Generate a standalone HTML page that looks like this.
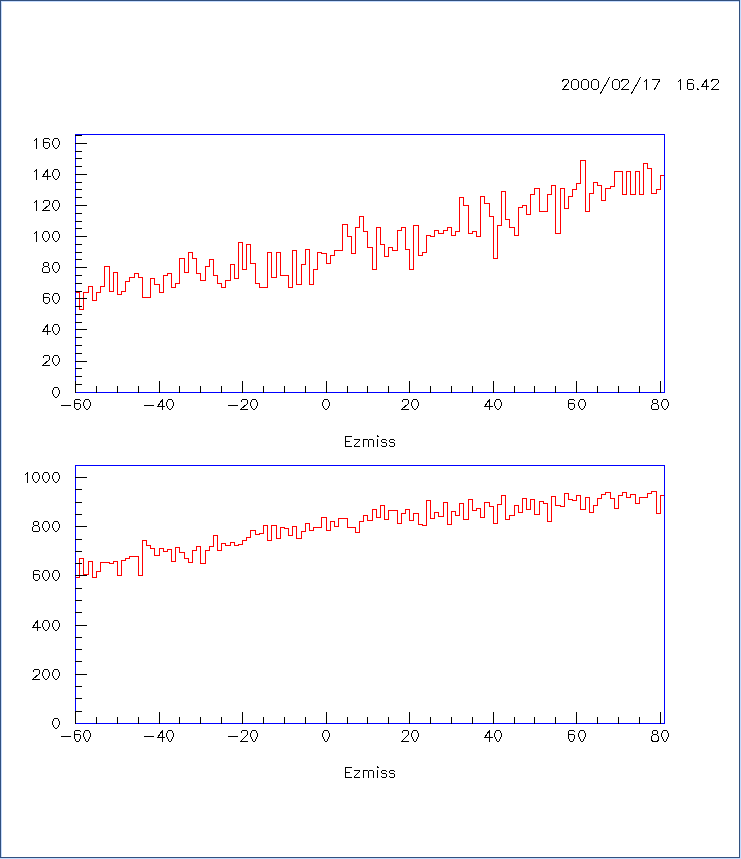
<!DOCTYPE html>
<html><head><meta charset="utf-8"><title>PAW histogram</title>
<style>html,body{margin:0;padding:0;background:#fff;width:741px;height:859px;overflow:hidden}svg{display:block}</style>
</head><body>
<svg width="741" height="859" viewBox="0 0 741 859" shape-rendering="crispEdges">
<rect x="0" y="0" width="741" height="859" fill="#ffffff"/>
<rect x="0" y="0" width="740" height="1" fill="#32507e"/>
<rect x="0" y="0" width="1" height="858" fill="#32507e"/>
<rect x="1" y="1" width="738" height="1" fill="#c5dcff"/>
<rect x="1" y="1" width="1" height="856" fill="#c5dcff"/>
<rect x="739" y="0" width="1" height="858" fill="#32507e"/>
<rect x="0" y="857" width="740" height="1" fill="#32507e"/>
<rect x="740" y="0" width="1" height="859" fill="#c5dcff"/>
<rect x="0" y="858" width="741" height="1" fill="#c5dcff"/>
<rect x="75" y="292" width="5" height="1" fill="#ff0000"/>
<rect x="79" y="292" width="1" height="18" fill="#ff0000"/>
<rect x="79" y="309" width="5" height="1" fill="#ff0000"/>
<rect x="83" y="292" width="1" height="18" fill="#ff0000"/>
<rect x="83" y="292" width="6" height="1" fill="#ff0000"/>
<rect x="88" y="286" width="1" height="7" fill="#ff0000"/>
<rect x="88" y="286" width="5" height="1" fill="#ff0000"/>
<rect x="92" y="286" width="1" height="15" fill="#ff0000"/>
<rect x="92" y="300" width="5" height="1" fill="#ff0000"/>
<rect x="96" y="292" width="1" height="9" fill="#ff0000"/>
<rect x="96" y="292" width="5" height="1" fill="#ff0000"/>
<rect x="100" y="286" width="1" height="7" fill="#ff0000"/>
<rect x="100" y="286" width="5" height="1" fill="#ff0000"/>
<rect x="104" y="266" width="1" height="21" fill="#ff0000"/>
<rect x="104" y="266" width="6" height="1" fill="#ff0000"/>
<rect x="109" y="266" width="1" height="26" fill="#ff0000"/>
<rect x="109" y="291" width="5" height="1" fill="#ff0000"/>
<rect x="113" y="272" width="1" height="20" fill="#ff0000"/>
<rect x="113" y="272" width="5" height="1" fill="#ff0000"/>
<rect x="117" y="272" width="1" height="23" fill="#ff0000"/>
<rect x="117" y="294" width="5" height="1" fill="#ff0000"/>
<rect x="121" y="291" width="1" height="4" fill="#ff0000"/>
<rect x="121" y="291" width="5" height="1" fill="#ff0000"/>
<rect x="125" y="281" width="1" height="11" fill="#ff0000"/>
<rect x="125" y="281" width="5" height="1" fill="#ff0000"/>
<rect x="129" y="277" width="1" height="5" fill="#ff0000"/>
<rect x="129" y="277" width="6" height="1" fill="#ff0000"/>
<rect x="134" y="273" width="1" height="5" fill="#ff0000"/>
<rect x="134" y="273" width="5" height="1" fill="#ff0000"/>
<rect x="138" y="273" width="1" height="5" fill="#ff0000"/>
<rect x="138" y="277" width="5" height="1" fill="#ff0000"/>
<rect x="142" y="277" width="1" height="21" fill="#ff0000"/>
<rect x="142" y="297" width="5" height="1" fill="#ff0000"/>
<rect x="146" y="297" width="1" height="1" fill="#ff0000"/>
<rect x="146" y="297" width="5" height="1" fill="#ff0000"/>
<rect x="150" y="278" width="1" height="20" fill="#ff0000"/>
<rect x="150" y="278" width="5" height="1" fill="#ff0000"/>
<rect x="154" y="278" width="1" height="7" fill="#ff0000"/>
<rect x="154" y="284" width="6" height="1" fill="#ff0000"/>
<rect x="159" y="284" width="1" height="9" fill="#ff0000"/>
<rect x="159" y="292" width="5" height="1" fill="#ff0000"/>
<rect x="163" y="275" width="1" height="18" fill="#ff0000"/>
<rect x="163" y="275" width="5" height="1" fill="#ff0000"/>
<rect x="167" y="273" width="1" height="3" fill="#ff0000"/>
<rect x="167" y="273" width="5" height="1" fill="#ff0000"/>
<rect x="171" y="273" width="1" height="15" fill="#ff0000"/>
<rect x="171" y="287" width="5" height="1" fill="#ff0000"/>
<rect x="175" y="283" width="1" height="5" fill="#ff0000"/>
<rect x="175" y="283" width="5" height="1" fill="#ff0000"/>
<rect x="179" y="258" width="1" height="26" fill="#ff0000"/>
<rect x="179" y="258" width="6" height="1" fill="#ff0000"/>
<rect x="184" y="258" width="1" height="15" fill="#ff0000"/>
<rect x="184" y="272" width="5" height="1" fill="#ff0000"/>
<rect x="188" y="252" width="1" height="21" fill="#ff0000"/>
<rect x="188" y="252" width="5" height="1" fill="#ff0000"/>
<rect x="192" y="252" width="1" height="7" fill="#ff0000"/>
<rect x="192" y="258" width="5" height="1" fill="#ff0000"/>
<rect x="196" y="258" width="1" height="16" fill="#ff0000"/>
<rect x="196" y="273" width="5" height="1" fill="#ff0000"/>
<rect x="200" y="273" width="1" height="8" fill="#ff0000"/>
<rect x="200" y="280" width="6" height="1" fill="#ff0000"/>
<rect x="205" y="266" width="1" height="15" fill="#ff0000"/>
<rect x="205" y="266" width="5" height="1" fill="#ff0000"/>
<rect x="209" y="259" width="1" height="8" fill="#ff0000"/>
<rect x="209" y="259" width="5" height="1" fill="#ff0000"/>
<rect x="213" y="259" width="1" height="17" fill="#ff0000"/>
<rect x="213" y="275" width="5" height="1" fill="#ff0000"/>
<rect x="217" y="275" width="1" height="9" fill="#ff0000"/>
<rect x="217" y="283" width="5" height="1" fill="#ff0000"/>
<rect x="221" y="283" width="1" height="5" fill="#ff0000"/>
<rect x="221" y="287" width="5" height="1" fill="#ff0000"/>
<rect x="225" y="280" width="1" height="8" fill="#ff0000"/>
<rect x="225" y="280" width="6" height="1" fill="#ff0000"/>
<rect x="230" y="264" width="1" height="17" fill="#ff0000"/>
<rect x="230" y="264" width="5" height="1" fill="#ff0000"/>
<rect x="234" y="264" width="1" height="15" fill="#ff0000"/>
<rect x="234" y="278" width="5" height="1" fill="#ff0000"/>
<rect x="238" y="242" width="1" height="37" fill="#ff0000"/>
<rect x="238" y="242" width="5" height="1" fill="#ff0000"/>
<rect x="242" y="242" width="1" height="28" fill="#ff0000"/>
<rect x="242" y="269" width="5" height="1" fill="#ff0000"/>
<rect x="246" y="244" width="1" height="26" fill="#ff0000"/>
<rect x="246" y="244" width="5" height="1" fill="#ff0000"/>
<rect x="250" y="244" width="1" height="20" fill="#ff0000"/>
<rect x="250" y="263" width="6" height="1" fill="#ff0000"/>
<rect x="255" y="263" width="1" height="21" fill="#ff0000"/>
<rect x="255" y="283" width="5" height="1" fill="#ff0000"/>
<rect x="259" y="283" width="1" height="5" fill="#ff0000"/>
<rect x="259" y="287" width="5" height="1" fill="#ff0000"/>
<rect x="263" y="287" width="1" height="1" fill="#ff0000"/>
<rect x="263" y="287" width="5" height="1" fill="#ff0000"/>
<rect x="267" y="252" width="1" height="36" fill="#ff0000"/>
<rect x="267" y="252" width="5" height="1" fill="#ff0000"/>
<rect x="271" y="252" width="1" height="26" fill="#ff0000"/>
<rect x="271" y="277" width="6" height="1" fill="#ff0000"/>
<rect x="276" y="252" width="1" height="26" fill="#ff0000"/>
<rect x="276" y="252" width="5" height="1" fill="#ff0000"/>
<rect x="280" y="252" width="1" height="24" fill="#ff0000"/>
<rect x="280" y="275" width="5" height="1" fill="#ff0000"/>
<rect x="284" y="275" width="1" height="1" fill="#ff0000"/>
<rect x="284" y="275" width="5" height="1" fill="#ff0000"/>
<rect x="288" y="275" width="1" height="13" fill="#ff0000"/>
<rect x="288" y="287" width="5" height="1" fill="#ff0000"/>
<rect x="292" y="250" width="1" height="38" fill="#ff0000"/>
<rect x="292" y="250" width="5" height="1" fill="#ff0000"/>
<rect x="296" y="250" width="1" height="35" fill="#ff0000"/>
<rect x="296" y="284" width="6" height="1" fill="#ff0000"/>
<rect x="301" y="264" width="1" height="21" fill="#ff0000"/>
<rect x="301" y="264" width="5" height="1" fill="#ff0000"/>
<rect x="305" y="249" width="1" height="16" fill="#ff0000"/>
<rect x="305" y="249" width="5" height="1" fill="#ff0000"/>
<rect x="309" y="249" width="1" height="36" fill="#ff0000"/>
<rect x="309" y="284" width="5" height="1" fill="#ff0000"/>
<rect x="313" y="269" width="1" height="16" fill="#ff0000"/>
<rect x="313" y="269" width="5" height="1" fill="#ff0000"/>
<rect x="317" y="252" width="1" height="18" fill="#ff0000"/>
<rect x="317" y="252" width="5" height="1" fill="#ff0000"/>
<rect x="321" y="252" width="1" height="2" fill="#ff0000"/>
<rect x="321" y="253" width="6" height="1" fill="#ff0000"/>
<rect x="326" y="253" width="1" height="11" fill="#ff0000"/>
<rect x="326" y="263" width="5" height="1" fill="#ff0000"/>
<rect x="330" y="255" width="1" height="9" fill="#ff0000"/>
<rect x="330" y="255" width="5" height="1" fill="#ff0000"/>
<rect x="334" y="250" width="1" height="6" fill="#ff0000"/>
<rect x="334" y="250" width="5" height="1" fill="#ff0000"/>
<rect x="338" y="250" width="1" height="1" fill="#ff0000"/>
<rect x="338" y="250" width="5" height="1" fill="#ff0000"/>
<rect x="342" y="224" width="1" height="27" fill="#ff0000"/>
<rect x="342" y="224" width="6" height="1" fill="#ff0000"/>
<rect x="347" y="224" width="1" height="13" fill="#ff0000"/>
<rect x="347" y="236" width="5" height="1" fill="#ff0000"/>
<rect x="351" y="236" width="1" height="18" fill="#ff0000"/>
<rect x="351" y="253" width="5" height="1" fill="#ff0000"/>
<rect x="355" y="227" width="1" height="27" fill="#ff0000"/>
<rect x="355" y="227" width="5" height="1" fill="#ff0000"/>
<rect x="359" y="216" width="1" height="12" fill="#ff0000"/>
<rect x="359" y="216" width="5" height="1" fill="#ff0000"/>
<rect x="363" y="216" width="1" height="16" fill="#ff0000"/>
<rect x="363" y="231" width="5" height="1" fill="#ff0000"/>
<rect x="367" y="231" width="1" height="17" fill="#ff0000"/>
<rect x="367" y="247" width="6" height="1" fill="#ff0000"/>
<rect x="372" y="247" width="1" height="23" fill="#ff0000"/>
<rect x="372" y="269" width="5" height="1" fill="#ff0000"/>
<rect x="376" y="227" width="1" height="43" fill="#ff0000"/>
<rect x="376" y="227" width="5" height="1" fill="#ff0000"/>
<rect x="380" y="227" width="1" height="18" fill="#ff0000"/>
<rect x="380" y="244" width="5" height="1" fill="#ff0000"/>
<rect x="384" y="244" width="1" height="13" fill="#ff0000"/>
<rect x="384" y="256" width="5" height="1" fill="#ff0000"/>
<rect x="388" y="247" width="1" height="10" fill="#ff0000"/>
<rect x="388" y="247" width="5" height="1" fill="#ff0000"/>
<rect x="392" y="247" width="1" height="4" fill="#ff0000"/>
<rect x="392" y="250" width="6" height="1" fill="#ff0000"/>
<rect x="397" y="230" width="1" height="21" fill="#ff0000"/>
<rect x="397" y="230" width="5" height="1" fill="#ff0000"/>
<rect x="401" y="227" width="1" height="4" fill="#ff0000"/>
<rect x="401" y="227" width="5" height="1" fill="#ff0000"/>
<rect x="405" y="227" width="1" height="23" fill="#ff0000"/>
<rect x="405" y="249" width="5" height="1" fill="#ff0000"/>
<rect x="409" y="249" width="1" height="21" fill="#ff0000"/>
<rect x="409" y="269" width="5" height="1" fill="#ff0000"/>
<rect x="413" y="225" width="1" height="45" fill="#ff0000"/>
<rect x="413" y="225" width="6" height="1" fill="#ff0000"/>
<rect x="418" y="225" width="1" height="31" fill="#ff0000"/>
<rect x="418" y="255" width="5" height="1" fill="#ff0000"/>
<rect x="422" y="252" width="1" height="4" fill="#ff0000"/>
<rect x="422" y="252" width="5" height="1" fill="#ff0000"/>
<rect x="426" y="235" width="1" height="18" fill="#ff0000"/>
<rect x="426" y="235" width="5" height="1" fill="#ff0000"/>
<rect x="430" y="235" width="1" height="2" fill="#ff0000"/>
<rect x="430" y="236" width="5" height="1" fill="#ff0000"/>
<rect x="434" y="230" width="1" height="7" fill="#ff0000"/>
<rect x="434" y="230" width="5" height="1" fill="#ff0000"/>
<rect x="438" y="230" width="1" height="4" fill="#ff0000"/>
<rect x="438" y="233" width="6" height="1" fill="#ff0000"/>
<rect x="443" y="230" width="1" height="4" fill="#ff0000"/>
<rect x="443" y="230" width="5" height="1" fill="#ff0000"/>
<rect x="447" y="227" width="1" height="4" fill="#ff0000"/>
<rect x="447" y="227" width="5" height="1" fill="#ff0000"/>
<rect x="451" y="227" width="1" height="9" fill="#ff0000"/>
<rect x="451" y="235" width="5" height="1" fill="#ff0000"/>
<rect x="455" y="231" width="1" height="5" fill="#ff0000"/>
<rect x="455" y="231" width="5" height="1" fill="#ff0000"/>
<rect x="459" y="197" width="1" height="35" fill="#ff0000"/>
<rect x="459" y="197" width="5" height="1" fill="#ff0000"/>
<rect x="463" y="197" width="1" height="9" fill="#ff0000"/>
<rect x="463" y="205" width="6" height="1" fill="#ff0000"/>
<rect x="468" y="205" width="1" height="29" fill="#ff0000"/>
<rect x="468" y="233" width="5" height="1" fill="#ff0000"/>
<rect x="472" y="231" width="1" height="3" fill="#ff0000"/>
<rect x="472" y="231" width="5" height="1" fill="#ff0000"/>
<rect x="476" y="231" width="1" height="6" fill="#ff0000"/>
<rect x="476" y="236" width="5" height="1" fill="#ff0000"/>
<rect x="480" y="196" width="1" height="41" fill="#ff0000"/>
<rect x="480" y="196" width="5" height="1" fill="#ff0000"/>
<rect x="484" y="196" width="1" height="8" fill="#ff0000"/>
<rect x="484" y="203" width="6" height="1" fill="#ff0000"/>
<rect x="489" y="203" width="1" height="14" fill="#ff0000"/>
<rect x="489" y="216" width="5" height="1" fill="#ff0000"/>
<rect x="493" y="216" width="1" height="43" fill="#ff0000"/>
<rect x="493" y="258" width="5" height="1" fill="#ff0000"/>
<rect x="497" y="225" width="1" height="34" fill="#ff0000"/>
<rect x="497" y="225" width="5" height="1" fill="#ff0000"/>
<rect x="501" y="191" width="1" height="35" fill="#ff0000"/>
<rect x="501" y="191" width="5" height="1" fill="#ff0000"/>
<rect x="505" y="191" width="1" height="29" fill="#ff0000"/>
<rect x="505" y="219" width="5" height="1" fill="#ff0000"/>
<rect x="509" y="219" width="1" height="9" fill="#ff0000"/>
<rect x="509" y="227" width="6" height="1" fill="#ff0000"/>
<rect x="514" y="227" width="1" height="9" fill="#ff0000"/>
<rect x="514" y="235" width="5" height="1" fill="#ff0000"/>
<rect x="518" y="207" width="1" height="29" fill="#ff0000"/>
<rect x="518" y="207" width="5" height="1" fill="#ff0000"/>
<rect x="522" y="205" width="1" height="3" fill="#ff0000"/>
<rect x="522" y="205" width="5" height="1" fill="#ff0000"/>
<rect x="526" y="205" width="1" height="10" fill="#ff0000"/>
<rect x="526" y="214" width="5" height="1" fill="#ff0000"/>
<rect x="530" y="194" width="1" height="21" fill="#ff0000"/>
<rect x="530" y="194" width="5" height="1" fill="#ff0000"/>
<rect x="534" y="188" width="1" height="7" fill="#ff0000"/>
<rect x="534" y="188" width="6" height="1" fill="#ff0000"/>
<rect x="539" y="188" width="1" height="24" fill="#ff0000"/>
<rect x="539" y="211" width="5" height="1" fill="#ff0000"/>
<rect x="543" y="211" width="1" height="1" fill="#ff0000"/>
<rect x="543" y="211" width="5" height="1" fill="#ff0000"/>
<rect x="547" y="194" width="1" height="18" fill="#ff0000"/>
<rect x="547" y="194" width="5" height="1" fill="#ff0000"/>
<rect x="551" y="185" width="1" height="10" fill="#ff0000"/>
<rect x="551" y="185" width="5" height="1" fill="#ff0000"/>
<rect x="555" y="185" width="1" height="49" fill="#ff0000"/>
<rect x="555" y="233" width="6" height="1" fill="#ff0000"/>
<rect x="560" y="188" width="1" height="46" fill="#ff0000"/>
<rect x="560" y="188" width="5" height="1" fill="#ff0000"/>
<rect x="564" y="188" width="1" height="21" fill="#ff0000"/>
<rect x="564" y="208" width="5" height="1" fill="#ff0000"/>
<rect x="568" y="196" width="1" height="13" fill="#ff0000"/>
<rect x="568" y="196" width="5" height="1" fill="#ff0000"/>
<rect x="572" y="189" width="1" height="8" fill="#ff0000"/>
<rect x="572" y="189" width="5" height="1" fill="#ff0000"/>
<rect x="576" y="183" width="1" height="7" fill="#ff0000"/>
<rect x="576" y="183" width="5" height="1" fill="#ff0000"/>
<rect x="580" y="160" width="1" height="24" fill="#ff0000"/>
<rect x="580" y="160" width="6" height="1" fill="#ff0000"/>
<rect x="585" y="160" width="1" height="52" fill="#ff0000"/>
<rect x="585" y="211" width="5" height="1" fill="#ff0000"/>
<rect x="589" y="193" width="1" height="19" fill="#ff0000"/>
<rect x="589" y="193" width="5" height="1" fill="#ff0000"/>
<rect x="593" y="182" width="1" height="12" fill="#ff0000"/>
<rect x="593" y="182" width="5" height="1" fill="#ff0000"/>
<rect x="597" y="182" width="1" height="4" fill="#ff0000"/>
<rect x="597" y="185" width="5" height="1" fill="#ff0000"/>
<rect x="601" y="185" width="1" height="16" fill="#ff0000"/>
<rect x="601" y="200" width="5" height="1" fill="#ff0000"/>
<rect x="605" y="188" width="1" height="13" fill="#ff0000"/>
<rect x="605" y="188" width="6" height="1" fill="#ff0000"/>
<rect x="610" y="186" width="1" height="3" fill="#ff0000"/>
<rect x="610" y="186" width="5" height="1" fill="#ff0000"/>
<rect x="614" y="171" width="1" height="16" fill="#ff0000"/>
<rect x="614" y="171" width="5" height="1" fill="#ff0000"/>
<rect x="618" y="171" width="1" height="1" fill="#ff0000"/>
<rect x="618" y="171" width="5" height="1" fill="#ff0000"/>
<rect x="622" y="171" width="1" height="24" fill="#ff0000"/>
<rect x="622" y="194" width="5" height="1" fill="#ff0000"/>
<rect x="626" y="171" width="1" height="24" fill="#ff0000"/>
<rect x="626" y="171" width="5" height="1" fill="#ff0000"/>
<rect x="630" y="171" width="1" height="24" fill="#ff0000"/>
<rect x="630" y="194" width="6" height="1" fill="#ff0000"/>
<rect x="635" y="171" width="1" height="24" fill="#ff0000"/>
<rect x="635" y="171" width="5" height="1" fill="#ff0000"/>
<rect x="639" y="171" width="1" height="24" fill="#ff0000"/>
<rect x="639" y="194" width="5" height="1" fill="#ff0000"/>
<rect x="643" y="163" width="1" height="32" fill="#ff0000"/>
<rect x="643" y="163" width="5" height="1" fill="#ff0000"/>
<rect x="647" y="163" width="1" height="6" fill="#ff0000"/>
<rect x="647" y="168" width="5" height="1" fill="#ff0000"/>
<rect x="651" y="168" width="1" height="26" fill="#ff0000"/>
<rect x="651" y="193" width="6" height="1" fill="#ff0000"/>
<rect x="656" y="189" width="1" height="5" fill="#ff0000"/>
<rect x="656" y="189" width="5" height="1" fill="#ff0000"/>
<rect x="660" y="175" width="1" height="15" fill="#ff0000"/>
<rect x="660" y="175" width="5" height="1" fill="#ff0000"/>
<rect x="75" y="134" width="590" height="1" fill="#0000ff"/>
<rect x="75" y="392" width="590" height="1" fill="#0000ff"/>
<rect x="75" y="134" width="1" height="259" fill="#0000ff"/>
<rect x="664" y="134" width="1" height="259" fill="#0000ff"/>
<rect x="75" y="384" width="7" height="1" fill="#000000"/>
<rect x="75" y="376" width="7" height="1" fill="#000000"/>
<rect x="75" y="368" width="7" height="1" fill="#000000"/>
<rect x="75" y="353" width="7" height="1" fill="#000000"/>
<rect x="75" y="345" width="7" height="1" fill="#000000"/>
<rect x="75" y="337" width="7" height="1" fill="#000000"/>
<rect x="75" y="322" width="7" height="1" fill="#000000"/>
<rect x="75" y="314" width="7" height="1" fill="#000000"/>
<rect x="75" y="306" width="7" height="1" fill="#000000"/>
<rect x="75" y="291" width="7" height="1" fill="#000000"/>
<rect x="75" y="283" width="7" height="1" fill="#000000"/>
<rect x="75" y="275" width="7" height="1" fill="#000000"/>
<rect x="75" y="259" width="7" height="1" fill="#000000"/>
<rect x="75" y="252" width="7" height="1" fill="#000000"/>
<rect x="75" y="244" width="7" height="1" fill="#000000"/>
<rect x="75" y="228" width="7" height="1" fill="#000000"/>
<rect x="75" y="221" width="7" height="1" fill="#000000"/>
<rect x="75" y="213" width="7" height="1" fill="#000000"/>
<rect x="75" y="197" width="7" height="1" fill="#000000"/>
<rect x="75" y="189" width="7" height="1" fill="#000000"/>
<rect x="75" y="182" width="7" height="1" fill="#000000"/>
<rect x="75" y="166" width="7" height="1" fill="#000000"/>
<rect x="75" y="158" width="7" height="1" fill="#000000"/>
<rect x="75" y="151" width="7" height="1" fill="#000000"/>
<rect x="75" y="135" width="7" height="1" fill="#000000"/>
<rect x="75" y="361" width="12" height="1" fill="#000000"/>
<rect x="75" y="329" width="12" height="1" fill="#000000"/>
<rect x="75" y="298" width="12" height="1" fill="#000000"/>
<rect x="75" y="267" width="12" height="1" fill="#000000"/>
<rect x="75" y="236" width="12" height="1" fill="#000000"/>
<rect x="75" y="205" width="12" height="1" fill="#000000"/>
<rect x="75" y="174" width="12" height="1" fill="#000000"/>
<rect x="75" y="143" width="12" height="1" fill="#000000"/>
<rect x="75" y="381" width="1" height="12" fill="#000000"/>
<rect x="96" y="386" width="1" height="7" fill="#000000"/>
<rect x="117" y="386" width="1" height="7" fill="#000000"/>
<rect x="138" y="386" width="1" height="7" fill="#000000"/>
<rect x="159" y="381" width="1" height="12" fill="#000000"/>
<rect x="179" y="386" width="1" height="7" fill="#000000"/>
<rect x="200" y="386" width="1" height="7" fill="#000000"/>
<rect x="221" y="386" width="1" height="7" fill="#000000"/>
<rect x="242" y="381" width="1" height="12" fill="#000000"/>
<rect x="263" y="386" width="1" height="7" fill="#000000"/>
<rect x="284" y="386" width="1" height="7" fill="#000000"/>
<rect x="305" y="386" width="1" height="7" fill="#000000"/>
<rect x="326" y="381" width="1" height="12" fill="#000000"/>
<rect x="347" y="386" width="1" height="7" fill="#000000"/>
<rect x="367" y="386" width="1" height="7" fill="#000000"/>
<rect x="388" y="386" width="1" height="7" fill="#000000"/>
<rect x="409" y="381" width="1" height="12" fill="#000000"/>
<rect x="430" y="386" width="1" height="7" fill="#000000"/>
<rect x="451" y="386" width="1" height="7" fill="#000000"/>
<rect x="472" y="386" width="1" height="7" fill="#000000"/>
<rect x="493" y="381" width="1" height="12" fill="#000000"/>
<rect x="514" y="386" width="1" height="7" fill="#000000"/>
<rect x="534" y="386" width="1" height="7" fill="#000000"/>
<rect x="555" y="386" width="1" height="7" fill="#000000"/>
<rect x="576" y="381" width="1" height="12" fill="#000000"/>
<rect x="597" y="386" width="1" height="7" fill="#000000"/>
<rect x="618" y="386" width="1" height="7" fill="#000000"/>
<rect x="639" y="386" width="1" height="7" fill="#000000"/>
<rect x="660" y="381" width="1" height="12" fill="#000000"/>
<polyline points="54.5,387.5 57.5,387.5 58.5,388.5 58.5,389.5 59.5,390.5 59.5,393.5 58.5,394.5 58.5,395.5 56.5,397.5 55.5,397.5 53.5,395.5 53.5,394.5 52.5,393.5 52.5,390.5 53.5,389.5 53.5,388.5 54.5,387.5" fill="none" stroke="#000000" stroke-width="1" stroke-linecap="square"/>
<polyline points="43.5,357.5 43.5,356.5 44.5,355.5 48.5,355.5 49.5,356.5 49.5,359.5 42.5,365.5 49.5,365.5" fill="none" stroke="#000000" stroke-width="1" stroke-linecap="square"/>
<polyline points="54.5,355.5 57.5,355.5 58.5,356.5 58.5,357.5 59.5,358.5 59.5,361.5 58.5,362.5 58.5,363.5 56.5,365.5 55.5,365.5 53.5,363.5 53.5,362.5 52.5,361.5 52.5,358.5 53.5,357.5 53.5,356.5 54.5,355.5" fill="none" stroke="#000000" stroke-width="1" stroke-linecap="square"/>
<polyline points="47.5,334.5 47.5,324.5 42.5,331.5 50.5,331.5" fill="none" stroke="#000000" stroke-width="1" stroke-linecap="square"/>
<polyline points="54.5,324.5 57.5,324.5 58.5,325.5 58.5,326.5 59.5,327.5 59.5,330.5 58.5,331.5 58.5,332.5 56.5,334.5 55.5,334.5 53.5,332.5 53.5,331.5 52.5,330.5 52.5,327.5 53.5,326.5 53.5,325.5 54.5,324.5" fill="none" stroke="#000000" stroke-width="1" stroke-linecap="square"/>
<polyline points="49.5,294.5 48.5,293.5 44.5,293.5 43.5,294.5 43.5,301.5 45.5,303.5 47.5,303.5 49.5,301.5 49.5,298.5 48.5,297.5 43.5,297.5" fill="none" stroke="#000000" stroke-width="1" stroke-linecap="square"/>
<polyline points="54.5,293.5 57.5,293.5 58.5,294.5 58.5,295.5 59.5,296.5 59.5,299.5 58.5,300.5 58.5,301.5 56.5,303.5 55.5,303.5 53.5,301.5 53.5,300.5 52.5,299.5 52.5,296.5 53.5,295.5 53.5,294.5 54.5,293.5" fill="none" stroke="#000000" stroke-width="1" stroke-linecap="square"/>
<polyline points="44.5,262.5 47.5,262.5 48.5,263.5 48.5,265.5 47.5,266.5 44.5,266.5 43.5,265.5 43.5,263.5 44.5,262.5" fill="none" stroke="#000000" stroke-width="1" stroke-linecap="square"/>
<polyline points="44.5,266.5 42.5,268.5 42.5,271.5 43.5,272.5 48.5,272.5 49.5,271.5 49.5,268.5 47.5,266.5" fill="none" stroke="#000000" stroke-width="1" stroke-linecap="square"/>
<polyline points="54.5,262.5 57.5,262.5 58.5,263.5 58.5,264.5 59.5,265.5 59.5,268.5 58.5,269.5 58.5,270.5 56.5,272.5 55.5,272.5 53.5,270.5 53.5,269.5 52.5,268.5 52.5,265.5 53.5,264.5 53.5,263.5 54.5,262.5" fill="none" stroke="#000000" stroke-width="1" stroke-linecap="square"/>
<polyline points="34.5,233.5 36.5,231.5 36.5,241.5" fill="none" stroke="#000000" stroke-width="1" stroke-linecap="square"/>
<polyline points="44.5,231.5 47.5,231.5 48.5,232.5 48.5,233.5 49.5,234.5 49.5,237.5 48.5,238.5 48.5,239.5 46.5,241.5 45.5,241.5 43.5,239.5 43.5,238.5 42.5,237.5 42.5,234.5 43.5,233.5 43.5,232.5 44.5,231.5" fill="none" stroke="#000000" stroke-width="1" stroke-linecap="square"/>
<polyline points="54.5,231.5 57.5,231.5 58.5,232.5 58.5,233.5 59.5,234.5 59.5,237.5 58.5,238.5 58.5,239.5 56.5,241.5 55.5,241.5 53.5,239.5 53.5,238.5 52.5,237.5 52.5,234.5 53.5,233.5 53.5,232.5 54.5,231.5" fill="none" stroke="#000000" stroke-width="1" stroke-linecap="square"/>
<polyline points="34.5,202.5 36.5,200.5 36.5,210.5" fill="none" stroke="#000000" stroke-width="1" stroke-linecap="square"/>
<polyline points="43.5,202.5 43.5,201.5 44.5,200.5 48.5,200.5 49.5,201.5 49.5,204.5 42.5,210.5 49.5,210.5" fill="none" stroke="#000000" stroke-width="1" stroke-linecap="square"/>
<polyline points="54.5,200.5 57.5,200.5 58.5,201.5 58.5,202.5 59.5,203.5 59.5,206.5 58.5,207.5 58.5,208.5 56.5,210.5 55.5,210.5 53.5,208.5 53.5,207.5 52.5,206.5 52.5,203.5 53.5,202.5 53.5,201.5 54.5,200.5" fill="none" stroke="#000000" stroke-width="1" stroke-linecap="square"/>
<polyline points="34.5,171.5 36.5,169.5 36.5,179.5" fill="none" stroke="#000000" stroke-width="1" stroke-linecap="square"/>
<polyline points="47.5,179.5 47.5,169.5 42.5,176.5 50.5,176.5" fill="none" stroke="#000000" stroke-width="1" stroke-linecap="square"/>
<polyline points="54.5,169.5 57.5,169.5 58.5,170.5 58.5,171.5 59.5,172.5 59.5,175.5 58.5,176.5 58.5,177.5 56.5,179.5 55.5,179.5 53.5,177.5 53.5,176.5 52.5,175.5 52.5,172.5 53.5,171.5 53.5,170.5 54.5,169.5" fill="none" stroke="#000000" stroke-width="1" stroke-linecap="square"/>
<polyline points="34.5,140.5 36.5,138.5 36.5,148.5" fill="none" stroke="#000000" stroke-width="1" stroke-linecap="square"/>
<polyline points="49.5,139.5 48.5,138.5 44.5,138.5 43.5,139.5 43.5,146.5 45.5,148.5 47.5,148.5 49.5,146.5 49.5,143.5 48.5,142.5 43.5,142.5" fill="none" stroke="#000000" stroke-width="1" stroke-linecap="square"/>
<polyline points="54.5,138.5 57.5,138.5 58.5,139.5 58.5,140.5 59.5,141.5 59.5,144.5 58.5,145.5 58.5,146.5 56.5,148.5 55.5,148.5 53.5,146.5 53.5,145.5 52.5,144.5 52.5,141.5 53.5,140.5 53.5,139.5 54.5,138.5" fill="none" stroke="#000000" stroke-width="1" stroke-linecap="square"/>
<polyline points="61.5,405.5 70.5,405.5" fill="none" stroke="#000000" stroke-width="1" stroke-linecap="square"/>
<polyline points="80.5,400.5 79.5,399.5 75.5,399.5 74.5,400.5 74.5,407.5 76.5,409.5 78.5,409.5 80.5,407.5 80.5,404.5 79.5,403.5 74.5,403.5" fill="none" stroke="#000000" stroke-width="1" stroke-linecap="square"/>
<polyline points="85.5,399.5 88.5,399.5 89.5,400.5 89.5,401.5 90.5,402.5 90.5,405.5 89.5,406.5 89.5,407.5 87.5,409.5 86.5,409.5 84.5,407.5 84.5,406.5 83.5,405.5 83.5,402.5 84.5,401.5 84.5,400.5 85.5,399.5" fill="none" stroke="#000000" stroke-width="1" stroke-linecap="square"/>
<polyline points="144.5,405.5 153.5,405.5" fill="none" stroke="#000000" stroke-width="1" stroke-linecap="square"/>
<polyline points="162.5,409.5 162.5,399.5 157.5,406.5 164.5,406.5" fill="none" stroke="#000000" stroke-width="1" stroke-linecap="square"/>
<polyline points="168.5,399.5 171.5,399.5 172.5,400.5 172.5,401.5 173.5,402.5 173.5,405.5 172.5,406.5 172.5,407.5 170.5,409.5 169.5,409.5 167.5,407.5 167.5,406.5 166.5,405.5 166.5,402.5 167.5,401.5 167.5,400.5 168.5,399.5" fill="none" stroke="#000000" stroke-width="1" stroke-linecap="square"/>
<polyline points="228.5,405.5 237.5,405.5" fill="none" stroke="#000000" stroke-width="1" stroke-linecap="square"/>
<polyline points="241.5,401.5 241.5,400.5 242.5,399.5 246.5,399.5 247.5,400.5 247.5,403.5 240.5,409.5 247.5,409.5" fill="none" stroke="#000000" stroke-width="1" stroke-linecap="square"/>
<polyline points="252.5,399.5 255.5,399.5 256.5,400.5 256.5,401.5 257.5,402.5 257.5,405.5 256.5,406.5 256.5,407.5 254.5,409.5 253.5,409.5 251.5,407.5 251.5,406.5 250.5,405.5 250.5,402.5 251.5,401.5 251.5,400.5 252.5,399.5" fill="none" stroke="#000000" stroke-width="1" stroke-linecap="square"/>
<polyline points="324.5,399.5 327.5,399.5 328.5,400.5 328.5,401.5 329.5,402.5 329.5,405.5 328.5,406.5 328.5,407.5 326.5,409.5 325.5,409.5 323.5,407.5 323.5,406.5 322.5,405.5 322.5,402.5 323.5,401.5 323.5,400.5 324.5,399.5" fill="none" stroke="#000000" stroke-width="1" stroke-linecap="square"/>
<polyline points="402.5,401.5 402.5,400.5 403.5,399.5 407.5,399.5 408.5,400.5 408.5,403.5 401.5,409.5 408.5,409.5" fill="none" stroke="#000000" stroke-width="1" stroke-linecap="square"/>
<polyline points="413.5,399.5 416.5,399.5 417.5,400.5 417.5,401.5 418.5,402.5 418.5,405.5 417.5,406.5 417.5,407.5 415.5,409.5 414.5,409.5 412.5,407.5 412.5,406.5 411.5,405.5 411.5,402.5 412.5,401.5 412.5,400.5 413.5,399.5" fill="none" stroke="#000000" stroke-width="1" stroke-linecap="square"/>
<polyline points="489.5,409.5 489.5,399.5 484.5,406.5 492.5,406.5" fill="none" stroke="#000000" stroke-width="1" stroke-linecap="square"/>
<polyline points="496.5,399.5 499.5,399.5 500.5,400.5 500.5,401.5 501.5,402.5 501.5,405.5 500.5,406.5 500.5,407.5 498.5,409.5 497.5,409.5 495.5,407.5 495.5,406.5 494.5,405.5 494.5,402.5 495.5,401.5 495.5,400.5 496.5,399.5" fill="none" stroke="#000000" stroke-width="1" stroke-linecap="square"/>
<polyline points="574.5,400.5 573.5,399.5 569.5,399.5 568.5,400.5 568.5,407.5 570.5,409.5 572.5,409.5 574.5,407.5 574.5,404.5 573.5,403.5 568.5,403.5" fill="none" stroke="#000000" stroke-width="1" stroke-linecap="square"/>
<polyline points="580.5,399.5 583.5,399.5 584.5,400.5 584.5,401.5 585.5,402.5 585.5,405.5 584.5,406.5 584.5,407.5 582.5,409.5 581.5,409.5 579.5,407.5 579.5,406.5 578.5,405.5 578.5,402.5 579.5,401.5 579.5,400.5 580.5,399.5" fill="none" stroke="#000000" stroke-width="1" stroke-linecap="square"/>
<polyline points="653.5,399.5 656.5,399.5 657.5,400.5 657.5,402.5 656.5,403.5 653.5,403.5 652.5,402.5 652.5,400.5 653.5,399.5" fill="none" stroke="#000000" stroke-width="1" stroke-linecap="square"/>
<polyline points="653.5,403.5 651.5,405.5 651.5,408.5 652.5,409.5 657.5,409.5 658.5,408.5 658.5,405.5 656.5,403.5" fill="none" stroke="#000000" stroke-width="1" stroke-linecap="square"/>
<polyline points="663.5,399.5 666.5,399.5 667.5,400.5 667.5,401.5 668.5,402.5 668.5,405.5 667.5,406.5 667.5,407.5 665.5,409.5 664.5,409.5 662.5,407.5 662.5,406.5 661.5,405.5 661.5,402.5 662.5,401.5 662.5,400.5 663.5,399.5" fill="none" stroke="#000000" stroke-width="1" stroke-linecap="square"/>
<polyline points="351.5,436.5 345.5,436.5 345.5,446.5 351.5,446.5" fill="none" stroke="#000000" stroke-width="1" stroke-linecap="square"/>
<polyline points="345.5,441.5 349.5,441.5" fill="none" stroke="#000000" stroke-width="1" stroke-linecap="square"/>
<polyline points="354.5,439.5 359.5,439.5 359.5,440.5 354.5,445.5 354.5,446.5 359.5,446.5" fill="none" stroke="#000000" stroke-width="1" stroke-linecap="square"/>
<polyline points="363.5,446.5 363.5,439.5" fill="none" stroke="#000000" stroke-width="1" stroke-linecap="square"/>
<polyline points="363.5,440.5 364.5,439.5 367.5,439.5 368.5,440.5 368.5,446.5" fill="none" stroke="#000000" stroke-width="1" stroke-linecap="square"/>
<polyline points="368.5,440.5 369.5,439.5 372.5,439.5 373.5,440.5 373.5,446.5" fill="none" stroke="#000000" stroke-width="1" stroke-linecap="square"/>
<polyline points="377.5,439.5 377.5,446.5" fill="none" stroke="#000000" stroke-width="1" stroke-linecap="square"/>
<rect x="377" y="435" width="1" height="1" fill="#000000"/>
<rect x="377" y="436" width="1" height="1" fill="#000000"/>
<rect x="378" y="436" width="1" height="1" fill="#000000"/>
<polyline points="386.5,440.5 385.5,439.5 382.5,439.5 381.5,440.5 381.5,441.5 382.5,442.5 385.5,442.5 386.5,443.5 386.5,445.5 385.5,446.5 382.5,446.5 381.5,445.5" fill="none" stroke="#000000" stroke-width="1" stroke-linecap="square"/>
<polyline points="394.5,440.5 393.5,439.5 390.5,439.5 389.5,440.5 389.5,441.5 390.5,442.5 393.5,442.5 394.5,443.5 394.5,445.5 393.5,446.5 390.5,446.5 389.5,445.5" fill="none" stroke="#000000" stroke-width="1" stroke-linecap="square"/>
<rect x="75" y="577" width="5" height="1" fill="#ff0000"/>
<rect x="79" y="558" width="1" height="20" fill="#ff0000"/>
<rect x="79" y="558" width="5" height="1" fill="#ff0000"/>
<rect x="83" y="558" width="1" height="17" fill="#ff0000"/>
<rect x="83" y="574" width="6" height="1" fill="#ff0000"/>
<rect x="88" y="561" width="1" height="14" fill="#ff0000"/>
<rect x="88" y="561" width="5" height="1" fill="#ff0000"/>
<rect x="92" y="561" width="1" height="17" fill="#ff0000"/>
<rect x="92" y="577" width="5" height="1" fill="#ff0000"/>
<rect x="96" y="571" width="1" height="7" fill="#ff0000"/>
<rect x="96" y="571" width="5" height="1" fill="#ff0000"/>
<rect x="100" y="562" width="1" height="10" fill="#ff0000"/>
<rect x="100" y="562" width="5" height="1" fill="#ff0000"/>
<rect x="104" y="562" width="1" height="1" fill="#ff0000"/>
<rect x="104" y="562" width="6" height="1" fill="#ff0000"/>
<rect x="109" y="562" width="1" height="2" fill="#ff0000"/>
<rect x="109" y="563" width="5" height="1" fill="#ff0000"/>
<rect x="113" y="561" width="1" height="3" fill="#ff0000"/>
<rect x="113" y="561" width="5" height="1" fill="#ff0000"/>
<rect x="117" y="561" width="1" height="15" fill="#ff0000"/>
<rect x="117" y="575" width="5" height="1" fill="#ff0000"/>
<rect x="121" y="560" width="1" height="16" fill="#ff0000"/>
<rect x="121" y="560" width="5" height="1" fill="#ff0000"/>
<rect x="125" y="558" width="1" height="3" fill="#ff0000"/>
<rect x="125" y="558" width="5" height="1" fill="#ff0000"/>
<rect x="129" y="556" width="1" height="3" fill="#ff0000"/>
<rect x="129" y="556" width="6" height="1" fill="#ff0000"/>
<rect x="134" y="556" width="1" height="1" fill="#ff0000"/>
<rect x="134" y="556" width="5" height="1" fill="#ff0000"/>
<rect x="138" y="556" width="1" height="20" fill="#ff0000"/>
<rect x="138" y="575" width="5" height="1" fill="#ff0000"/>
<rect x="142" y="540" width="1" height="36" fill="#ff0000"/>
<rect x="142" y="540" width="5" height="1" fill="#ff0000"/>
<rect x="146" y="540" width="1" height="6" fill="#ff0000"/>
<rect x="146" y="545" width="5" height="1" fill="#ff0000"/>
<rect x="150" y="545" width="1" height="4" fill="#ff0000"/>
<rect x="150" y="548" width="5" height="1" fill="#ff0000"/>
<rect x="154" y="548" width="1" height="8" fill="#ff0000"/>
<rect x="154" y="555" width="6" height="1" fill="#ff0000"/>
<rect x="159" y="548" width="1" height="8" fill="#ff0000"/>
<rect x="159" y="548" width="5" height="1" fill="#ff0000"/>
<rect x="163" y="548" width="1" height="4" fill="#ff0000"/>
<rect x="163" y="551" width="5" height="1" fill="#ff0000"/>
<rect x="167" y="549" width="1" height="3" fill="#ff0000"/>
<rect x="167" y="549" width="5" height="1" fill="#ff0000"/>
<rect x="171" y="549" width="1" height="13" fill="#ff0000"/>
<rect x="171" y="561" width="5" height="1" fill="#ff0000"/>
<rect x="175" y="547" width="1" height="15" fill="#ff0000"/>
<rect x="175" y="547" width="5" height="1" fill="#ff0000"/>
<rect x="179" y="547" width="1" height="6" fill="#ff0000"/>
<rect x="179" y="552" width="6" height="1" fill="#ff0000"/>
<rect x="184" y="552" width="1" height="7" fill="#ff0000"/>
<rect x="184" y="558" width="5" height="1" fill="#ff0000"/>
<rect x="188" y="558" width="1" height="5" fill="#ff0000"/>
<rect x="188" y="562" width="5" height="1" fill="#ff0000"/>
<rect x="192" y="550" width="1" height="13" fill="#ff0000"/>
<rect x="192" y="550" width="5" height="1" fill="#ff0000"/>
<rect x="196" y="546" width="1" height="5" fill="#ff0000"/>
<rect x="196" y="546" width="5" height="1" fill="#ff0000"/>
<rect x="200" y="546" width="1" height="18" fill="#ff0000"/>
<rect x="200" y="563" width="6" height="1" fill="#ff0000"/>
<rect x="205" y="550" width="1" height="14" fill="#ff0000"/>
<rect x="205" y="550" width="5" height="1" fill="#ff0000"/>
<rect x="209" y="546" width="1" height="5" fill="#ff0000"/>
<rect x="209" y="546" width="5" height="1" fill="#ff0000"/>
<rect x="213" y="535" width="1" height="12" fill="#ff0000"/>
<rect x="213" y="535" width="5" height="1" fill="#ff0000"/>
<rect x="217" y="535" width="1" height="16" fill="#ff0000"/>
<rect x="217" y="550" width="5" height="1" fill="#ff0000"/>
<rect x="221" y="543" width="1" height="8" fill="#ff0000"/>
<rect x="221" y="543" width="5" height="1" fill="#ff0000"/>
<rect x="225" y="543" width="1" height="3" fill="#ff0000"/>
<rect x="225" y="545" width="6" height="1" fill="#ff0000"/>
<rect x="230" y="542" width="1" height="4" fill="#ff0000"/>
<rect x="230" y="542" width="5" height="1" fill="#ff0000"/>
<rect x="234" y="542" width="1" height="4" fill="#ff0000"/>
<rect x="234" y="545" width="5" height="1" fill="#ff0000"/>
<rect x="238" y="544" width="1" height="2" fill="#ff0000"/>
<rect x="238" y="544" width="5" height="1" fill="#ff0000"/>
<rect x="242" y="540" width="1" height="5" fill="#ff0000"/>
<rect x="242" y="540" width="5" height="1" fill="#ff0000"/>
<rect x="246" y="537" width="1" height="4" fill="#ff0000"/>
<rect x="246" y="537" width="5" height="1" fill="#ff0000"/>
<rect x="250" y="530" width="1" height="8" fill="#ff0000"/>
<rect x="250" y="530" width="6" height="1" fill="#ff0000"/>
<rect x="255" y="530" width="1" height="5" fill="#ff0000"/>
<rect x="255" y="534" width="5" height="1" fill="#ff0000"/>
<rect x="259" y="533" width="1" height="2" fill="#ff0000"/>
<rect x="259" y="533" width="5" height="1" fill="#ff0000"/>
<rect x="263" y="525" width="1" height="9" fill="#ff0000"/>
<rect x="263" y="525" width="5" height="1" fill="#ff0000"/>
<rect x="267" y="525" width="1" height="16" fill="#ff0000"/>
<rect x="267" y="540" width="5" height="1" fill="#ff0000"/>
<rect x="271" y="525" width="1" height="16" fill="#ff0000"/>
<rect x="271" y="525" width="6" height="1" fill="#ff0000"/>
<rect x="276" y="525" width="1" height="14" fill="#ff0000"/>
<rect x="276" y="538" width="5" height="1" fill="#ff0000"/>
<rect x="280" y="527" width="1" height="12" fill="#ff0000"/>
<rect x="280" y="527" width="5" height="1" fill="#ff0000"/>
<rect x="284" y="527" width="1" height="2" fill="#ff0000"/>
<rect x="284" y="528" width="5" height="1" fill="#ff0000"/>
<rect x="288" y="528" width="1" height="8" fill="#ff0000"/>
<rect x="288" y="535" width="5" height="1" fill="#ff0000"/>
<rect x="292" y="526" width="1" height="10" fill="#ff0000"/>
<rect x="292" y="526" width="5" height="1" fill="#ff0000"/>
<rect x="296" y="526" width="1" height="13" fill="#ff0000"/>
<rect x="296" y="538" width="6" height="1" fill="#ff0000"/>
<rect x="301" y="531" width="1" height="8" fill="#ff0000"/>
<rect x="301" y="531" width="5" height="1" fill="#ff0000"/>
<rect x="305" y="523" width="1" height="9" fill="#ff0000"/>
<rect x="305" y="523" width="5" height="1" fill="#ff0000"/>
<rect x="309" y="523" width="1" height="8" fill="#ff0000"/>
<rect x="309" y="530" width="5" height="1" fill="#ff0000"/>
<rect x="313" y="527" width="1" height="4" fill="#ff0000"/>
<rect x="313" y="527" width="5" height="1" fill="#ff0000"/>
<rect x="317" y="527" width="1" height="1" fill="#ff0000"/>
<rect x="317" y="527" width="5" height="1" fill="#ff0000"/>
<rect x="321" y="517" width="1" height="11" fill="#ff0000"/>
<rect x="321" y="517" width="6" height="1" fill="#ff0000"/>
<rect x="326" y="517" width="1" height="14" fill="#ff0000"/>
<rect x="326" y="530" width="5" height="1" fill="#ff0000"/>
<rect x="330" y="521" width="1" height="10" fill="#ff0000"/>
<rect x="330" y="521" width="5" height="1" fill="#ff0000"/>
<rect x="334" y="521" width="1" height="6" fill="#ff0000"/>
<rect x="334" y="526" width="5" height="1" fill="#ff0000"/>
<rect x="338" y="518" width="1" height="9" fill="#ff0000"/>
<rect x="338" y="518" width="5" height="1" fill="#ff0000"/>
<rect x="342" y="518" width="1" height="1" fill="#ff0000"/>
<rect x="342" y="518" width="6" height="1" fill="#ff0000"/>
<rect x="347" y="518" width="1" height="10" fill="#ff0000"/>
<rect x="347" y="527" width="5" height="1" fill="#ff0000"/>
<rect x="351" y="527" width="1" height="1" fill="#ff0000"/>
<rect x="351" y="527" width="5" height="1" fill="#ff0000"/>
<rect x="355" y="527" width="1" height="6" fill="#ff0000"/>
<rect x="355" y="532" width="5" height="1" fill="#ff0000"/>
<rect x="359" y="521" width="1" height="12" fill="#ff0000"/>
<rect x="359" y="521" width="5" height="1" fill="#ff0000"/>
<rect x="363" y="515" width="1" height="7" fill="#ff0000"/>
<rect x="363" y="515" width="5" height="1" fill="#ff0000"/>
<rect x="367" y="515" width="1" height="6" fill="#ff0000"/>
<rect x="367" y="520" width="6" height="1" fill="#ff0000"/>
<rect x="372" y="509" width="1" height="12" fill="#ff0000"/>
<rect x="372" y="509" width="5" height="1" fill="#ff0000"/>
<rect x="376" y="509" width="1" height="9" fill="#ff0000"/>
<rect x="376" y="517" width="5" height="1" fill="#ff0000"/>
<rect x="380" y="505" width="1" height="13" fill="#ff0000"/>
<rect x="380" y="505" width="5" height="1" fill="#ff0000"/>
<rect x="384" y="505" width="1" height="15" fill="#ff0000"/>
<rect x="384" y="519" width="5" height="1" fill="#ff0000"/>
<rect x="388" y="510" width="1" height="10" fill="#ff0000"/>
<rect x="388" y="510" width="5" height="1" fill="#ff0000"/>
<rect x="392" y="510" width="1" height="1" fill="#ff0000"/>
<rect x="392" y="510" width="6" height="1" fill="#ff0000"/>
<rect x="397" y="510" width="1" height="14" fill="#ff0000"/>
<rect x="397" y="523" width="5" height="1" fill="#ff0000"/>
<rect x="401" y="513" width="1" height="11" fill="#ff0000"/>
<rect x="401" y="513" width="5" height="1" fill="#ff0000"/>
<rect x="405" y="509" width="1" height="5" fill="#ff0000"/>
<rect x="405" y="509" width="5" height="1" fill="#ff0000"/>
<rect x="409" y="509" width="1" height="12" fill="#ff0000"/>
<rect x="409" y="520" width="5" height="1" fill="#ff0000"/>
<rect x="413" y="513" width="1" height="8" fill="#ff0000"/>
<rect x="413" y="513" width="6" height="1" fill="#ff0000"/>
<rect x="418" y="513" width="1" height="12" fill="#ff0000"/>
<rect x="418" y="524" width="5" height="1" fill="#ff0000"/>
<rect x="422" y="524" width="1" height="2" fill="#ff0000"/>
<rect x="422" y="525" width="5" height="1" fill="#ff0000"/>
<rect x="426" y="500" width="1" height="26" fill="#ff0000"/>
<rect x="426" y="500" width="5" height="1" fill="#ff0000"/>
<rect x="430" y="500" width="1" height="19" fill="#ff0000"/>
<rect x="430" y="518" width="5" height="1" fill="#ff0000"/>
<rect x="434" y="512" width="1" height="7" fill="#ff0000"/>
<rect x="434" y="512" width="5" height="1" fill="#ff0000"/>
<rect x="438" y="512" width="1" height="5" fill="#ff0000"/>
<rect x="438" y="516" width="6" height="1" fill="#ff0000"/>
<rect x="443" y="502" width="1" height="15" fill="#ff0000"/>
<rect x="443" y="502" width="5" height="1" fill="#ff0000"/>
<rect x="447" y="502" width="1" height="23" fill="#ff0000"/>
<rect x="447" y="524" width="5" height="1" fill="#ff0000"/>
<rect x="451" y="511" width="1" height="14" fill="#ff0000"/>
<rect x="451" y="511" width="5" height="1" fill="#ff0000"/>
<rect x="455" y="511" width="1" height="5" fill="#ff0000"/>
<rect x="455" y="515" width="5" height="1" fill="#ff0000"/>
<rect x="459" y="503" width="1" height="13" fill="#ff0000"/>
<rect x="459" y="503" width="5" height="1" fill="#ff0000"/>
<rect x="463" y="503" width="1" height="17" fill="#ff0000"/>
<rect x="463" y="519" width="6" height="1" fill="#ff0000"/>
<rect x="468" y="499" width="1" height="21" fill="#ff0000"/>
<rect x="468" y="499" width="5" height="1" fill="#ff0000"/>
<rect x="472" y="499" width="1" height="12" fill="#ff0000"/>
<rect x="472" y="510" width="5" height="1" fill="#ff0000"/>
<rect x="476" y="508" width="1" height="3" fill="#ff0000"/>
<rect x="476" y="508" width="5" height="1" fill="#ff0000"/>
<rect x="480" y="508" width="1" height="10" fill="#ff0000"/>
<rect x="480" y="517" width="5" height="1" fill="#ff0000"/>
<rect x="484" y="502" width="1" height="16" fill="#ff0000"/>
<rect x="484" y="502" width="6" height="1" fill="#ff0000"/>
<rect x="489" y="502" width="1" height="5" fill="#ff0000"/>
<rect x="489" y="506" width="5" height="1" fill="#ff0000"/>
<rect x="493" y="506" width="1" height="18" fill="#ff0000"/>
<rect x="493" y="523" width="5" height="1" fill="#ff0000"/>
<rect x="497" y="504" width="1" height="20" fill="#ff0000"/>
<rect x="497" y="504" width="5" height="1" fill="#ff0000"/>
<rect x="501" y="495" width="1" height="10" fill="#ff0000"/>
<rect x="501" y="495" width="5" height="1" fill="#ff0000"/>
<rect x="505" y="495" width="1" height="25" fill="#ff0000"/>
<rect x="505" y="519" width="5" height="1" fill="#ff0000"/>
<rect x="509" y="515" width="1" height="5" fill="#ff0000"/>
<rect x="509" y="515" width="6" height="1" fill="#ff0000"/>
<rect x="514" y="505" width="1" height="11" fill="#ff0000"/>
<rect x="514" y="505" width="5" height="1" fill="#ff0000"/>
<rect x="518" y="505" width="1" height="8" fill="#ff0000"/>
<rect x="518" y="512" width="5" height="1" fill="#ff0000"/>
<rect x="522" y="498" width="1" height="15" fill="#ff0000"/>
<rect x="522" y="498" width="5" height="1" fill="#ff0000"/>
<rect x="526" y="498" width="1" height="12" fill="#ff0000"/>
<rect x="526" y="509" width="5" height="1" fill="#ff0000"/>
<rect x="530" y="499" width="1" height="11" fill="#ff0000"/>
<rect x="530" y="499" width="5" height="1" fill="#ff0000"/>
<rect x="534" y="499" width="1" height="16" fill="#ff0000"/>
<rect x="534" y="514" width="6" height="1" fill="#ff0000"/>
<rect x="539" y="501" width="1" height="14" fill="#ff0000"/>
<rect x="539" y="501" width="5" height="1" fill="#ff0000"/>
<rect x="543" y="501" width="1" height="3" fill="#ff0000"/>
<rect x="543" y="503" width="5" height="1" fill="#ff0000"/>
<rect x="547" y="503" width="1" height="19" fill="#ff0000"/>
<rect x="547" y="521" width="5" height="1" fill="#ff0000"/>
<rect x="551" y="496" width="1" height="26" fill="#ff0000"/>
<rect x="551" y="496" width="5" height="1" fill="#ff0000"/>
<rect x="555" y="496" width="1" height="10" fill="#ff0000"/>
<rect x="555" y="505" width="6" height="1" fill="#ff0000"/>
<rect x="560" y="505" width="1" height="2" fill="#ff0000"/>
<rect x="560" y="506" width="5" height="1" fill="#ff0000"/>
<rect x="564" y="493" width="1" height="14" fill="#ff0000"/>
<rect x="564" y="493" width="5" height="1" fill="#ff0000"/>
<rect x="568" y="493" width="1" height="7" fill="#ff0000"/>
<rect x="568" y="499" width="5" height="1" fill="#ff0000"/>
<rect x="572" y="499" width="1" height="2" fill="#ff0000"/>
<rect x="572" y="500" width="5" height="1" fill="#ff0000"/>
<rect x="576" y="495" width="1" height="6" fill="#ff0000"/>
<rect x="576" y="495" width="5" height="1" fill="#ff0000"/>
<rect x="580" y="495" width="1" height="15" fill="#ff0000"/>
<rect x="580" y="509" width="6" height="1" fill="#ff0000"/>
<rect x="585" y="497" width="1" height="13" fill="#ff0000"/>
<rect x="585" y="497" width="5" height="1" fill="#ff0000"/>
<rect x="589" y="497" width="1" height="16" fill="#ff0000"/>
<rect x="589" y="512" width="5" height="1" fill="#ff0000"/>
<rect x="593" y="505" width="1" height="8" fill="#ff0000"/>
<rect x="593" y="505" width="5" height="1" fill="#ff0000"/>
<rect x="597" y="498" width="1" height="8" fill="#ff0000"/>
<rect x="597" y="498" width="5" height="1" fill="#ff0000"/>
<rect x="601" y="494" width="1" height="5" fill="#ff0000"/>
<rect x="601" y="494" width="5" height="1" fill="#ff0000"/>
<rect x="605" y="492" width="1" height="3" fill="#ff0000"/>
<rect x="605" y="492" width="6" height="1" fill="#ff0000"/>
<rect x="610" y="492" width="1" height="7" fill="#ff0000"/>
<rect x="610" y="498" width="5" height="1" fill="#ff0000"/>
<rect x="614" y="498" width="1" height="11" fill="#ff0000"/>
<rect x="614" y="508" width="5" height="1" fill="#ff0000"/>
<rect x="618" y="495" width="1" height="14" fill="#ff0000"/>
<rect x="618" y="495" width="5" height="1" fill="#ff0000"/>
<rect x="622" y="492" width="1" height="4" fill="#ff0000"/>
<rect x="622" y="492" width="5" height="1" fill="#ff0000"/>
<rect x="626" y="492" width="1" height="6" fill="#ff0000"/>
<rect x="626" y="497" width="5" height="1" fill="#ff0000"/>
<rect x="630" y="494" width="1" height="4" fill="#ff0000"/>
<rect x="630" y="494" width="6" height="1" fill="#ff0000"/>
<rect x="635" y="494" width="1" height="10" fill="#ff0000"/>
<rect x="635" y="503" width="5" height="1" fill="#ff0000"/>
<rect x="639" y="497" width="1" height="7" fill="#ff0000"/>
<rect x="639" y="497" width="5" height="1" fill="#ff0000"/>
<rect x="643" y="497" width="1" height="1" fill="#ff0000"/>
<rect x="643" y="497" width="5" height="1" fill="#ff0000"/>
<rect x="647" y="493" width="1" height="5" fill="#ff0000"/>
<rect x="647" y="493" width="5" height="1" fill="#ff0000"/>
<rect x="651" y="491" width="1" height="3" fill="#ff0000"/>
<rect x="651" y="491" width="6" height="1" fill="#ff0000"/>
<rect x="656" y="491" width="1" height="23" fill="#ff0000"/>
<rect x="656" y="513" width="5" height="1" fill="#ff0000"/>
<rect x="660" y="495" width="1" height="19" fill="#ff0000"/>
<rect x="660" y="495" width="5" height="1" fill="#ff0000"/>
<rect x="75" y="465" width="590" height="1" fill="#0000ff"/>
<rect x="75" y="723" width="590" height="1" fill="#0000ff"/>
<rect x="75" y="465" width="1" height="259" fill="#0000ff"/>
<rect x="664" y="465" width="1" height="259" fill="#0000ff"/>
<rect x="75" y="711" width="7" height="1" fill="#000000"/>
<rect x="75" y="698" width="7" height="1" fill="#000000"/>
<rect x="75" y="686" width="7" height="1" fill="#000000"/>
<rect x="75" y="661" width="7" height="1" fill="#000000"/>
<rect x="75" y="649" width="7" height="1" fill="#000000"/>
<rect x="75" y="637" width="7" height="1" fill="#000000"/>
<rect x="75" y="612" width="7" height="1" fill="#000000"/>
<rect x="75" y="600" width="7" height="1" fill="#000000"/>
<rect x="75" y="588" width="7" height="1" fill="#000000"/>
<rect x="75" y="563" width="7" height="1" fill="#000000"/>
<rect x="75" y="551" width="7" height="1" fill="#000000"/>
<rect x="75" y="539" width="7" height="1" fill="#000000"/>
<rect x="75" y="514" width="7" height="1" fill="#000000"/>
<rect x="75" y="502" width="7" height="1" fill="#000000"/>
<rect x="75" y="489" width="7" height="1" fill="#000000"/>
<rect x="75" y="674" width="12" height="1" fill="#000000"/>
<rect x="75" y="625" width="12" height="1" fill="#000000"/>
<rect x="75" y="575" width="12" height="1" fill="#000000"/>
<rect x="75" y="526" width="12" height="1" fill="#000000"/>
<rect x="75" y="477" width="12" height="1" fill="#000000"/>
<rect x="75" y="712" width="1" height="12" fill="#000000"/>
<rect x="96" y="717" width="1" height="7" fill="#000000"/>
<rect x="117" y="717" width="1" height="7" fill="#000000"/>
<rect x="138" y="717" width="1" height="7" fill="#000000"/>
<rect x="159" y="712" width="1" height="12" fill="#000000"/>
<rect x="179" y="717" width="1" height="7" fill="#000000"/>
<rect x="200" y="717" width="1" height="7" fill="#000000"/>
<rect x="221" y="717" width="1" height="7" fill="#000000"/>
<rect x="242" y="712" width="1" height="12" fill="#000000"/>
<rect x="263" y="717" width="1" height="7" fill="#000000"/>
<rect x="284" y="717" width="1" height="7" fill="#000000"/>
<rect x="305" y="717" width="1" height="7" fill="#000000"/>
<rect x="326" y="712" width="1" height="12" fill="#000000"/>
<rect x="347" y="717" width="1" height="7" fill="#000000"/>
<rect x="367" y="717" width="1" height="7" fill="#000000"/>
<rect x="388" y="717" width="1" height="7" fill="#000000"/>
<rect x="409" y="712" width="1" height="12" fill="#000000"/>
<rect x="430" y="717" width="1" height="7" fill="#000000"/>
<rect x="451" y="717" width="1" height="7" fill="#000000"/>
<rect x="472" y="717" width="1" height="7" fill="#000000"/>
<rect x="493" y="712" width="1" height="12" fill="#000000"/>
<rect x="514" y="717" width="1" height="7" fill="#000000"/>
<rect x="534" y="717" width="1" height="7" fill="#000000"/>
<rect x="555" y="717" width="1" height="7" fill="#000000"/>
<rect x="576" y="712" width="1" height="12" fill="#000000"/>
<rect x="597" y="717" width="1" height="7" fill="#000000"/>
<rect x="618" y="717" width="1" height="7" fill="#000000"/>
<rect x="639" y="717" width="1" height="7" fill="#000000"/>
<rect x="660" y="712" width="1" height="12" fill="#000000"/>
<polyline points="54.5,718.5 57.5,718.5 58.5,719.5 58.5,720.5 59.5,721.5 59.5,724.5 58.5,725.5 58.5,726.5 56.5,728.5 55.5,728.5 53.5,726.5 53.5,725.5 52.5,724.5 52.5,721.5 53.5,720.5 53.5,719.5 54.5,718.5" fill="none" stroke="#000000" stroke-width="1" stroke-linecap="square"/>
<polyline points="33.5,671.5 33.5,670.5 34.5,669.5 38.5,669.5 39.5,670.5 39.5,673.5 32.5,679.5 39.5,679.5" fill="none" stroke="#000000" stroke-width="1" stroke-linecap="square"/>
<polyline points="44.5,669.5 47.5,669.5 48.5,670.5 48.5,671.5 49.5,672.5 49.5,675.5 48.5,676.5 48.5,677.5 46.5,679.5 45.5,679.5 43.5,677.5 43.5,676.5 42.5,675.5 42.5,672.5 43.5,671.5 43.5,670.5 44.5,669.5" fill="none" stroke="#000000" stroke-width="1" stroke-linecap="square"/>
<polyline points="54.5,669.5 57.5,669.5 58.5,670.5 58.5,671.5 59.5,672.5 59.5,675.5 58.5,676.5 58.5,677.5 56.5,679.5 55.5,679.5 53.5,677.5 53.5,676.5 52.5,675.5 52.5,672.5 53.5,671.5 53.5,670.5 54.5,669.5" fill="none" stroke="#000000" stroke-width="1" stroke-linecap="square"/>
<polyline points="37.5,630.5 37.5,620.5 32.5,627.5 40.5,627.5" fill="none" stroke="#000000" stroke-width="1" stroke-linecap="square"/>
<polyline points="44.5,620.5 47.5,620.5 48.5,621.5 48.5,622.5 49.5,623.5 49.5,626.5 48.5,627.5 48.5,628.5 46.5,630.5 45.5,630.5 43.5,628.5 43.5,627.5 42.5,626.5 42.5,623.5 43.5,622.5 43.5,621.5 44.5,620.5" fill="none" stroke="#000000" stroke-width="1" stroke-linecap="square"/>
<polyline points="54.5,620.5 57.5,620.5 58.5,621.5 58.5,622.5 59.5,623.5 59.5,626.5 58.5,627.5 58.5,628.5 56.5,630.5 55.5,630.5 53.5,628.5 53.5,627.5 52.5,626.5 52.5,623.5 53.5,622.5 53.5,621.5 54.5,620.5" fill="none" stroke="#000000" stroke-width="1" stroke-linecap="square"/>
<polyline points="39.5,571.5 38.5,570.5 34.5,570.5 33.5,571.5 33.5,578.5 35.5,580.5 37.5,580.5 39.5,578.5 39.5,575.5 38.5,574.5 33.5,574.5" fill="none" stroke="#000000" stroke-width="1" stroke-linecap="square"/>
<polyline points="44.5,570.5 47.5,570.5 48.5,571.5 48.5,572.5 49.5,573.5 49.5,576.5 48.5,577.5 48.5,578.5 46.5,580.5 45.5,580.5 43.5,578.5 43.5,577.5 42.5,576.5 42.5,573.5 43.5,572.5 43.5,571.5 44.5,570.5" fill="none" stroke="#000000" stroke-width="1" stroke-linecap="square"/>
<polyline points="54.5,570.5 57.5,570.5 58.5,571.5 58.5,572.5 59.5,573.5 59.5,576.5 58.5,577.5 58.5,578.5 56.5,580.5 55.5,580.5 53.5,578.5 53.5,577.5 52.5,576.5 52.5,573.5 53.5,572.5 53.5,571.5 54.5,570.5" fill="none" stroke="#000000" stroke-width="1" stroke-linecap="square"/>
<polyline points="34.5,521.5 37.5,521.5 38.5,522.5 38.5,524.5 37.5,525.5 34.5,525.5 33.5,524.5 33.5,522.5 34.5,521.5" fill="none" stroke="#000000" stroke-width="1" stroke-linecap="square"/>
<polyline points="34.5,525.5 32.5,527.5 32.5,530.5 33.5,531.5 38.5,531.5 39.5,530.5 39.5,527.5 37.5,525.5" fill="none" stroke="#000000" stroke-width="1" stroke-linecap="square"/>
<polyline points="44.5,521.5 47.5,521.5 48.5,522.5 48.5,523.5 49.5,524.5 49.5,527.5 48.5,528.5 48.5,529.5 46.5,531.5 45.5,531.5 43.5,529.5 43.5,528.5 42.5,527.5 42.5,524.5 43.5,523.5 43.5,522.5 44.5,521.5" fill="none" stroke="#000000" stroke-width="1" stroke-linecap="square"/>
<polyline points="54.5,521.5 57.5,521.5 58.5,522.5 58.5,523.5 59.5,524.5 59.5,527.5 58.5,528.5 58.5,529.5 56.5,531.5 55.5,531.5 53.5,529.5 53.5,528.5 52.5,527.5 52.5,524.5 53.5,523.5 53.5,522.5 54.5,521.5" fill="none" stroke="#000000" stroke-width="1" stroke-linecap="square"/>
<polyline points="25.5,474.5 27.5,472.5 27.5,482.5" fill="none" stroke="#000000" stroke-width="1" stroke-linecap="square"/>
<polyline points="34.5,472.5 37.5,472.5 38.5,473.5 38.5,474.5 39.5,475.5 39.5,478.5 38.5,479.5 38.5,480.5 36.5,482.5 35.5,482.5 33.5,480.5 33.5,479.5 32.5,478.5 32.5,475.5 33.5,474.5 33.5,473.5 34.5,472.5" fill="none" stroke="#000000" stroke-width="1" stroke-linecap="square"/>
<polyline points="44.5,472.5 47.5,472.5 48.5,473.5 48.5,474.5 49.5,475.5 49.5,478.5 48.5,479.5 48.5,480.5 46.5,482.5 45.5,482.5 43.5,480.5 43.5,479.5 42.5,478.5 42.5,475.5 43.5,474.5 43.5,473.5 44.5,472.5" fill="none" stroke="#000000" stroke-width="1" stroke-linecap="square"/>
<polyline points="54.5,472.5 57.5,472.5 58.5,473.5 58.5,474.5 59.5,475.5 59.5,478.5 58.5,479.5 58.5,480.5 56.5,482.5 55.5,482.5 53.5,480.5 53.5,479.5 52.5,478.5 52.5,475.5 53.5,474.5 53.5,473.5 54.5,472.5" fill="none" stroke="#000000" stroke-width="1" stroke-linecap="square"/>
<polyline points="61.5,736.5 70.5,736.5" fill="none" stroke="#000000" stroke-width="1" stroke-linecap="square"/>
<polyline points="80.5,731.5 79.5,730.5 75.5,730.5 74.5,731.5 74.5,738.5 76.5,741.5 78.5,741.5 80.5,738.5 80.5,735.5 79.5,734.5 74.5,734.5" fill="none" stroke="#000000" stroke-width="1" stroke-linecap="square"/>
<polyline points="85.5,730.5 88.5,730.5 89.5,731.5 89.5,732.5 90.5,733.5 90.5,736.5 89.5,737.5 89.5,738.5 87.5,741.5 86.5,741.5 84.5,738.5 84.5,737.5 83.5,736.5 83.5,733.5 84.5,732.5 84.5,731.5 85.5,730.5" fill="none" stroke="#000000" stroke-width="1" stroke-linecap="square"/>
<polyline points="144.5,736.5 153.5,736.5" fill="none" stroke="#000000" stroke-width="1" stroke-linecap="square"/>
<polyline points="162.5,741.5 162.5,730.5 157.5,737.5 164.5,737.5" fill="none" stroke="#000000" stroke-width="1" stroke-linecap="square"/>
<polyline points="168.5,730.5 171.5,730.5 172.5,731.5 172.5,732.5 173.5,733.5 173.5,736.5 172.5,737.5 172.5,738.5 170.5,741.5 169.5,741.5 167.5,738.5 167.5,737.5 166.5,736.5 166.5,733.5 167.5,732.5 167.5,731.5 168.5,730.5" fill="none" stroke="#000000" stroke-width="1" stroke-linecap="square"/>
<polyline points="228.5,736.5 237.5,736.5" fill="none" stroke="#000000" stroke-width="1" stroke-linecap="square"/>
<polyline points="241.5,732.5 241.5,731.5 242.5,730.5 246.5,730.5 247.5,731.5 247.5,734.5 240.5,741.5 247.5,741.5" fill="none" stroke="#000000" stroke-width="1" stroke-linecap="square"/>
<polyline points="252.5,730.5 255.5,730.5 256.5,731.5 256.5,732.5 257.5,733.5 257.5,736.5 256.5,737.5 256.5,738.5 254.5,741.5 253.5,741.5 251.5,738.5 251.5,737.5 250.5,736.5 250.5,733.5 251.5,732.5 251.5,731.5 252.5,730.5" fill="none" stroke="#000000" stroke-width="1" stroke-linecap="square"/>
<polyline points="324.5,730.5 327.5,730.5 328.5,731.5 328.5,732.5 329.5,733.5 329.5,736.5 328.5,737.5 328.5,738.5 326.5,741.5 325.5,741.5 323.5,738.5 323.5,737.5 322.5,736.5 322.5,733.5 323.5,732.5 323.5,731.5 324.5,730.5" fill="none" stroke="#000000" stroke-width="1" stroke-linecap="square"/>
<polyline points="402.5,732.5 402.5,731.5 403.5,730.5 407.5,730.5 408.5,731.5 408.5,734.5 401.5,741.5 408.5,741.5" fill="none" stroke="#000000" stroke-width="1" stroke-linecap="square"/>
<polyline points="413.5,730.5 416.5,730.5 417.5,731.5 417.5,732.5 418.5,733.5 418.5,736.5 417.5,737.5 417.5,738.5 415.5,741.5 414.5,741.5 412.5,738.5 412.5,737.5 411.5,736.5 411.5,733.5 412.5,732.5 412.5,731.5 413.5,730.5" fill="none" stroke="#000000" stroke-width="1" stroke-linecap="square"/>
<polyline points="489.5,741.5 489.5,730.5 484.5,737.5 492.5,737.5" fill="none" stroke="#000000" stroke-width="1" stroke-linecap="square"/>
<polyline points="496.5,730.5 499.5,730.5 500.5,731.5 500.5,732.5 501.5,733.5 501.5,736.5 500.5,737.5 500.5,738.5 498.5,741.5 497.5,741.5 495.5,738.5 495.5,737.5 494.5,736.5 494.5,733.5 495.5,732.5 495.5,731.5 496.5,730.5" fill="none" stroke="#000000" stroke-width="1" stroke-linecap="square"/>
<polyline points="574.5,731.5 573.5,730.5 569.5,730.5 568.5,731.5 568.5,738.5 570.5,741.5 572.5,741.5 574.5,738.5 574.5,735.5 573.5,734.5 568.5,734.5" fill="none" stroke="#000000" stroke-width="1" stroke-linecap="square"/>
<polyline points="580.5,730.5 583.5,730.5 584.5,731.5 584.5,732.5 585.5,733.5 585.5,736.5 584.5,737.5 584.5,738.5 582.5,741.5 581.5,741.5 579.5,738.5 579.5,737.5 578.5,736.5 578.5,733.5 579.5,732.5 579.5,731.5 580.5,730.5" fill="none" stroke="#000000" stroke-width="1" stroke-linecap="square"/>
<polyline points="653.5,730.5 656.5,730.5 657.5,731.5 657.5,733.5 656.5,734.5 653.5,734.5 652.5,733.5 652.5,731.5 653.5,730.5" fill="none" stroke="#000000" stroke-width="1" stroke-linecap="square"/>
<polyline points="653.5,734.5 651.5,736.5 651.5,739.5 652.5,741.5 657.5,741.5 658.5,739.5 658.5,736.5 656.5,734.5" fill="none" stroke="#000000" stroke-width="1" stroke-linecap="square"/>
<polyline points="663.5,730.5 666.5,730.5 667.5,731.5 667.5,732.5 668.5,733.5 668.5,736.5 667.5,737.5 667.5,738.5 665.5,741.5 664.5,741.5 662.5,738.5 662.5,737.5 661.5,736.5 661.5,733.5 662.5,732.5 662.5,731.5 663.5,730.5" fill="none" stroke="#000000" stroke-width="1" stroke-linecap="square"/>
<polyline points="351.5,767.5 345.5,767.5 345.5,777.5 351.5,777.5" fill="none" stroke="#000000" stroke-width="1" stroke-linecap="square"/>
<polyline points="345.5,772.5 349.5,772.5" fill="none" stroke="#000000" stroke-width="1" stroke-linecap="square"/>
<polyline points="354.5,770.5 359.5,770.5 359.5,771.5 354.5,776.5 354.5,777.5 359.5,777.5" fill="none" stroke="#000000" stroke-width="1" stroke-linecap="square"/>
<polyline points="363.5,777.5 363.5,770.5" fill="none" stroke="#000000" stroke-width="1" stroke-linecap="square"/>
<polyline points="363.5,771.5 364.5,770.5 367.5,770.5 368.5,771.5 368.5,777.5" fill="none" stroke="#000000" stroke-width="1" stroke-linecap="square"/>
<polyline points="368.5,771.5 369.5,770.5 372.5,770.5 373.5,771.5 373.5,777.5" fill="none" stroke="#000000" stroke-width="1" stroke-linecap="square"/>
<polyline points="377.5,770.5 377.5,777.5" fill="none" stroke="#000000" stroke-width="1" stroke-linecap="square"/>
<rect x="377" y="766" width="1" height="1" fill="#000000"/>
<rect x="377" y="767" width="1" height="1" fill="#000000"/>
<rect x="378" y="767" width="1" height="1" fill="#000000"/>
<polyline points="386.5,771.5 385.5,770.5 382.5,770.5 381.5,771.5 381.5,772.5 382.5,773.5 385.5,773.5 386.5,774.5 386.5,776.5 385.5,777.5 382.5,777.5 381.5,776.5" fill="none" stroke="#000000" stroke-width="1" stroke-linecap="square"/>
<polyline points="394.5,771.5 393.5,770.5 390.5,770.5 389.5,771.5 389.5,772.5 390.5,773.5 393.5,773.5 394.5,774.5 394.5,776.5 393.5,777.5 390.5,777.5 389.5,776.5" fill="none" stroke="#000000" stroke-width="1" stroke-linecap="square"/>
<polyline points="562.5,81.5 563.5,79.5 567.5,79.5 568.5,80.5 568.5,82.5 562.5,89.5 568.5,89.5" fill="none" stroke="#000000" stroke-width="1" stroke-linecap="square"/>
<polyline points="573.5,79.5 576.5,79.5 578.5,81.5 578.5,87.5 576.5,89.5 573.5,89.5 571.5,87.5 571.5,81.5 573.5,79.5" fill="none" stroke="#000000" stroke-width="1" stroke-linecap="square"/>
<polyline points="583.5,79.5 586.5,79.5 588.5,81.5 588.5,87.5 586.5,89.5 583.5,89.5 581.5,87.5 581.5,81.5 583.5,79.5" fill="none" stroke="#000000" stroke-width="1" stroke-linecap="square"/>
<polyline points="593.5,79.5 596.5,79.5 598.5,81.5 598.5,87.5 596.5,89.5 593.5,89.5 591.5,87.5 591.5,81.5 593.5,79.5" fill="none" stroke="#000000" stroke-width="1" stroke-linecap="square"/>
<polyline points="600.5,93.5 609.5,77.5" fill="none" stroke="#000000" stroke-width="1" stroke-linecap="square"/>
<polyline points="614.5,79.5 617.5,79.5 619.5,81.5 619.5,87.5 617.5,89.5 614.5,89.5 612.5,87.5 612.5,81.5 614.5,79.5" fill="none" stroke="#000000" stroke-width="1" stroke-linecap="square"/>
<polyline points="621.5,81.5 622.5,79.5 627.5,79.5 628.5,80.5 628.5,82.5 621.5,89.5 628.5,89.5" fill="none" stroke="#000000" stroke-width="1" stroke-linecap="square"/>
<polyline points="631.5,93.5 640.5,77.5" fill="none" stroke="#000000" stroke-width="1" stroke-linecap="square"/>
<polyline points="644.5,81.5 646.5,79.5 646.5,89.5" fill="none" stroke="#000000" stroke-width="1" stroke-linecap="square"/>
<polyline points="652.5,79.5 659.5,79.5 659.5,80.5 654.5,89.5" fill="none" stroke="#000000" stroke-width="1" stroke-linecap="square"/>
<polyline points="678.5,81.5 680.5,79.5 680.5,89.5" fill="none" stroke="#000000" stroke-width="1" stroke-linecap="square"/>
<polyline points="693.5,80.5 692.5,79.5 688.5,79.5 687.5,80.5 687.5,88.5 688.5,89.5 692.5,89.5 693.5,88.5 693.5,84.5 692.5,83.5 687.5,83.5" fill="none" stroke="#000000" stroke-width="1" stroke-linecap="square"/>
<polyline points="697.5,88.5 698.5,89.5" fill="none" stroke="#000000" stroke-width="1" stroke-linecap="square"/>
<rect x="697" y="89" width="1" height="1" fill="#000000"/>
<polyline points="706.5,89.5 706.5,79.5 701.5,86.5 708.5,86.5" fill="none" stroke="#000000" stroke-width="1" stroke-linecap="square"/>
<polyline points="711.5,81.5 712.5,79.5 717.5,79.5 718.5,80.5 718.5,82.5 711.5,89.5 718.5,89.5" fill="none" stroke="#000000" stroke-width="1" stroke-linecap="square"/>
</svg>
</body></html>
